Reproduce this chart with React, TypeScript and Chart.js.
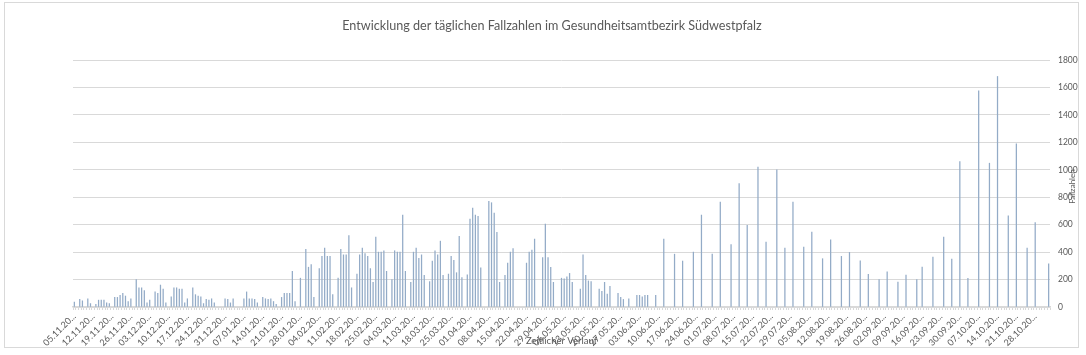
import React, { useEffect, useRef } from 'react';
import { Chart, registerables } from 'chart.js';

Chart.register(...registerables);

const CHART_TITLE = 'Entwicklung der täglichen Fallzahlen im Gesundheitsamtbezirk Südwestpfalz';
const X_AXIS_TITLE = 'Zeitlicher Verlauf';
const Y_AXIS_TITLE = 'Fallzahlen';

// first day of the series: 05.11.2020, one category per calendar day
const START_YEAR = 2020;
const START_MONTH_INDEX = 10;
const START_DAY = 5;
const DAY_COUNT = 363;
const TICK_EVERY_DAYS = 7;

const Y_MIN = 0;
const Y_MAX = 1800;
const Y_STEP = 200;

// [days after 05.11.2020, reported cases]
const CASES_NOV_DEC_2020: [number, number][] = [
  [0, 35], [2, 55], [3, 45], [5, 60], [6, 25], [8, 20], [9, 50], [10, 50], [11, 50], [12, 30], [13, 25],
  [15, 70], [16, 70], [17, 85], [18, 100], [19, 80], [20, 40], [21, 60], [23, 200], [24, 140], [25, 140],
  [26, 120], [27, 30], [28, 50], [30, 110], [31, 100], [32, 160], [33, 130], [34, 30], [36, 75], [37, 140],
  [38, 140], [39, 130], [40, 130], [41, 30], [42, 60], [44, 140], [45, 90], [46, 80], [47, 75], [48, 25],
  [49, 55], [50, 50], [51, 60], [52, 30], [56, 60],
];

const CASES_JAN_MAR_2021: [number, number][] = [
  [57, 55], [58, 30], [59, 60], [63, 60], [64, 110], [65, 60], [66, 60], [67, 55], [68, 30], [70, 70],
  [71, 60], [72, 55], [73, 60], [74, 40], [75, 20], [77, 70], [78, 100], [79, 100], [80, 100], [81, 260],
  [82, 40], [84, 210], [86, 420], [87, 290], [88, 310], [89, 70], [91, 280], [92, 370], [93, 430], [94, 370],
  [95, 370], [96, 90], [98, 210], [99, 420], [100, 380], [101, 380], [102, 520], [103, 140], [105, 240],
  [106, 380], [107, 430], [108, 390], [109, 370], [110, 280], [111, 180], [112, 510], [113, 400], [114, 400],
  [115, 410], [116, 260], [118, 200], [119, 410], [120, 400], [121, 400], [122, 670], [123, 260], [125, 180],
  [126, 400], [127, 430], [128, 355], [129, 380], [130, 230], [132, 185], [133, 335], [134, 410], [135, 380],
  [136, 480], [137, 230], [139, 240], [140, 370], [141, 340], [142, 250], [143, 515], [144, 215], [146, 235],
];

const CASES_APR_JUN_2021: [number, number][] = [
  [147, 640], [148, 720], [149, 670], [150, 660], [151, 285], [154, 770], [155, 760], [156, 685], [157, 545],
  [158, 180], [160, 230], [161, 320], [162, 400], [163, 425], [168, 320], [169, 400], [170, 415], [171, 495],
  [174, 360], [175, 605], [176, 360], [177, 290], [178, 180], [181, 210], [182, 205], [183, 220], [184, 245],
  [185, 180], [188, 130], [189, 380], [190, 230], [191, 190], [192, 185], [195, 130], [196, 115], [197, 180],
  [198, 95], [199, 150], [202, 100], [203, 70], [204, 55], [206, 60], [209, 85], [210, 85], [211, 75],
  [212, 85], [213, 85], [216, 85], [219, 495], [223, 385], [226, 335], [230, 400], [233, 670],
];

const CASES_JUL_NOV_2021: [number, number][] = [
  [237, 385], [240, 765], [244, 455], [247, 900], [250, 595], [254, 1020], [257, 473], [261, 1000],
  [264, 430], [267, 765], [271, 437], [274, 546], [278, 352], [281, 490], [285, 369], [288, 398], [292, 337],
  [295, 238], [299, 199], [302, 257], [306, 182], [309, 233], [313, 199], [315, 291], [319, 364], [323, 510],
  [326, 350], [329, 1060], [332, 209], [336, 1575], [340, 1048], [343, 1680], [347, 665], [350, 1189],
  [354, 430], [357, 616], [362, 315],
];

const FONT_FAMILY = 'Lato, "Open Sans", sans-serif';
const TEXT_COLOR = '#595959';
const GRID_COLOR = '#d9d9d9';
const BAR_COLOR = '#93abc7';

function buildDateLabels(): string[] {
  const labels: string[] = [];
  for (let i = 0; i < DAY_COUNT; i++) {
    const d = new Date(Date.UTC(START_YEAR, START_MONTH_INDEX, START_DAY + i));
    const dd = String(d.getUTCDate()).padStart(2, '0');
    const mm = String(d.getUTCMonth() + 1).padStart(2, '0');
    labels.push(`${dd}.${mm}.${d.getUTCFullYear()}`);
  }
  return labels;
}

function buildDailySeries(): (number | null)[] {
  const series: (number | null)[] = new Array(DAY_COUNT).fill(null);
  [CASES_NOV_DEC_2020, CASES_JAN_MAR_2021, CASES_APR_JUN_2021, CASES_JUL_NOV_2021].forEach((part) => {
    part.forEach(([day, value]) => {
      series[day] = value;
    });
  });
  return series;
}

const titlesPlugin = {
  id: 'excelTitles',
  afterDraw(chart: any) {
    const { ctx, chartArea } = chart;
    ctx.save();
    ctx.fillStyle = TEXT_COLOR;
    ctx.textAlign = 'center';
    ctx.textBaseline = 'middle';
    ctx.font = `12.6px ${FONT_FAMILY}`;
    ctx.fillText(CHART_TITLE, 552, 26);
    ctx.font = `9.5px ${FONT_FAMILY}`;
    ctx.fillText(X_AXIS_TITLE, (chartArea.left + chartArea.right) / 2, 341);
    ctx.translate(1072, (chartArea.top + chartArea.bottom) / 2 + 3);
    ctx.rotate(-Math.PI / 2);
    ctx.font = `8px ${FONT_FAMILY}`;
    ctx.fillText(Y_AXIS_TITLE, 0, 0);
    ctx.restore();
  },
};

export default function App() {
  const canvasRef = useRef<HTMLCanvasElement | null>(null);

  useEffect(() => {
    const canvas = canvasRef.current;
    if (!canvas) return;
    const labels = buildDateLabels();
    const data = buildDailySeries();
    const chart = new Chart(canvas, {
      type: 'bar',
      data: {
        labels,
        datasets: [
          {
            label: Y_AXIS_TITLE,
            data,
            backgroundColor: BAR_COLOR,
            borderWidth: 0,
            barThickness: 0.6,
          },
        ],
      },
      options: {
        animation: false,
        responsive: false,
        layout: { padding: { left: 73, top: 60, right: 0, bottom: 0 } },
        plugins: {
          legend: { display: false },
          tooltip: { enabled: false },
          title: { display: false },
        },
        scales: {
          x: {
            offset: true,
            grid: {
              display: true,
              drawOnChartArea: false,
              drawTicks: true,
              tickLength: 3,
              color: GRID_COLOR,
            },
            border: { display: true, color: GRID_COLOR, width: 1.5 },
            ticks: {
              autoSkip: false,
              maxRotation: 45,
              minRotation: 45,
              padding: 1,
              color: TEXT_COLOR,
              font: { size: 9, family: FONT_FAMILY },
              callback: function (this: any, value: any, index: number) {
                if (index % TICK_EVERY_DAYS !== 0) return '';
                return String(this.getLabelForValue(value)).slice(0, 8) + '...';
              },
            },
            afterFit: (scale: any) => {
              scale.height = 48;
            },
          },
          y: {
            position: 'right',
            min: Y_MIN,
            max: Y_MAX,
            ticks: {
              stepSize: Y_STEP,
              padding: 8,
              color: TEXT_COLOR,
              font: { size: 8.5, family: FONT_FAMILY },
              callback: (value: any) => String(value),
            },
            grid: { color: GRID_COLOR, drawTicks: false },
            border: { display: false },
            afterFit: (scale: any) => {
              scale.width = 36;
            },
          },
        },
      },
      plugins: [titlesPlugin],
    });
    return () => chart.destroy();
  }, []);

  return (
    <div style={{ position: 'fixed', left: 0, top: 0, width: 1086, height: 355, background: '#ffffff' }}>
      <canvas ref={canvasRef} width={1086} height={355} style={{ position: 'absolute', left: 0, top: 0 }} />
      <div
        style={{
          position: 'absolute',
          left: 4,
          top: 2,
          width: 1075,
          height: 346,
          boxSizing: 'border-box',
          border: '1px solid #d9d9d9',
          pointerEvents: 'none',
        }}
      />
    </div>
  );
}
